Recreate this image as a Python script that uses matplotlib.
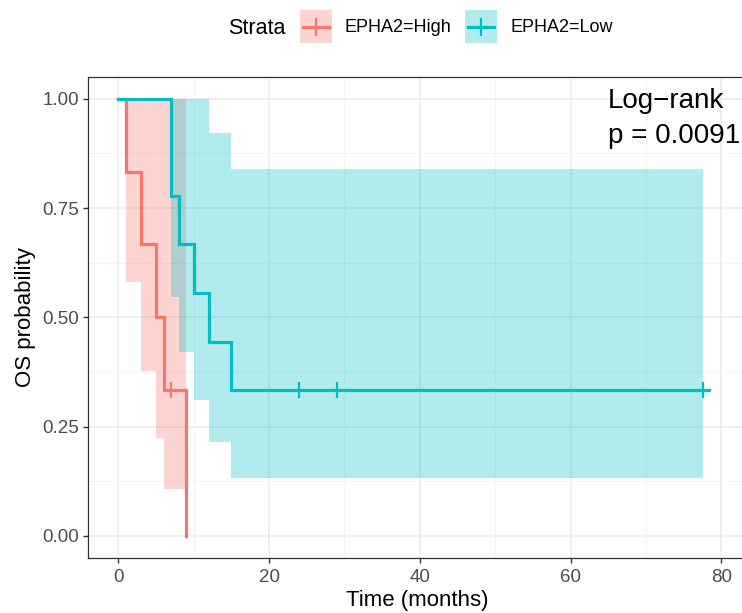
import matplotlib
matplotlib.use("Agg")
import matplotlib.pyplot as plt
from matplotlib.patches import Rectangle
from matplotlib.lines import Line2D
import numpy as np

plt.rcParams['font.family'] = ['Liberation Sans', 'DejaVu Sans']

# ---- data ----
strata = ["EPHA2=High", "EPHA2=Low"]
colors = ["#F8766D", "#00BFC4"]

high_time = [0, 1, 3, 5, 6, 9]
high_surv = [1.0, 0.833, 0.667, 0.5, 0.333, 0.0]
high_ci_time = [1, 3, 5, 6, 9]
high_ci_low = [0.581, 0.378, 0.223, 0.107, 0.107]
high_ci_up = [1.0, 1.0, 1.0, 1.0, 1.0]
high_cens_time = [7]
high_cens_surv = [0.333]

low_time = [0, 7, 8, 10, 12, 15, 77.5]
low_surv = [1.0, 0.778, 0.667, 0.556, 0.444, 0.333, 0.333]
low_ci_time = [7, 8, 10, 12, 15, 77.5]
low_ci_low = [0.547, 0.421, 0.310, 0.214, 0.132, 0.132]
low_ci_up = [1.0, 1.0, 1.0, 0.921, 0.839, 0.839]
low_cens_time = [24, 29, 77.5]
low_cens_surv = [0.333, 0.333, 0.333]

x_ticks = [0, 20, 40, 60, 80]
y_ticks = [0.0, 0.25, 0.5, 0.75, 1.0]
y_ticklabels = ["0.00", "0.25", "0.50", "0.75", "1.00"]
pval_lines = ["Log\u2212rank", "p = 0.0091"]

W, H = 742, 613
fig = plt.figure(figsize=(W / 100, H / 100), dpi=100)
L, R, T, B = 88.3, 745.6, 77.0, 557.7
ax = fig.add_axes([L / W, 1 - B / H, (R - L) / W, (B - T) / H])
ax.set_xlim(-3.98, 83.2)
ax.set_ylim(-0.05, 1.05)

# grid
ax.set_xticks(x_ticks)
ax.set_xticks([10, 30, 50, 70], minor=True)
ax.set_yticks(y_ticks)
ax.set_yticklabels(y_ticklabels)
ax.set_yticks([0.125, 0.375, 0.625, 0.875], minor=True)
ax.grid(True, which='major', color='#EBEBEB', lw=1.1, zorder=0)
ax.grid(True, which='minor', color='#F2F2F2', lw=0.6, zorder=0)
ax.set_axisbelow(True)

# ribbons
ax.fill_between(high_ci_time, high_ci_low, high_ci_up, step='post',
                color=colors[0], alpha=0.3, lw=0, zorder=1)
ax.fill_between(low_ci_time, low_ci_low, low_ci_up, step='post',
                color=colors[1], alpha=0.3, lw=0, zorder=1)

# curves
ax.step(high_time, high_surv, where='post', color=colors[0], lw=2.3, zorder=3,
        solid_joinstyle='miter')
ax.step(low_time, low_surv, where='post', color=colors[1], lw=2.3, zorder=4,
        solid_joinstyle='miter')
ax.plot(high_cens_time, high_cens_surv, ls='none', marker='|', ms=11, mew=1.6,
        color=colors[0], zorder=5)
ax.plot(low_cens_time, low_cens_surv, ls='none', marker='|', ms=11, mew=1.6,
        color=colors[1], zorder=5)
ax.plot([low_cens_time[-1], low_cens_time[-1] + 0.9], [low_cens_surv[-1]] * 2,
        color=colors[1], lw=2.3, zorder=5)

# axes styling
for s in ax.spines.values():
    s.set_color('#333333')
    s.set_linewidth(0.9)
ax.tick_params(axis='both', which='major', direction='out', length=3.5, width=1.0,
               color='#333333', labelsize=13.5, labelcolor='#4D4D4D', pad=3)
ax.tick_params(axis='x', which='major', pad=4.5)
ax.tick_params(axis='both', which='minor', length=0)
ax.set_xlabel("Time (months)", fontsize=16, labelpad=3)
ax.set_ylabel("OS probability", fontsize=16, labelpad=5)


def px2fig(x, y):
    return x / W, 1 - y / H


# p-value text
fig.text(*px2fig(608, 108.3), pval_lines[0], fontsize=20, va='baseline', ha='left')
fig.text(*px2fig(608, 142.7), pval_lines[1], fontsize=20, va='baseline', ha='left')

# legend (manual, ggplot style)
fig.text(*px2fig(228, 28), "Strata", fontsize=15.5, va='center', ha='left')
keys = [(300, 345, strata[0], colors[0]), (465, 510, strata[1], colors[1])]
for kx, tx, lab, col in keys:
    x0, y0 = px2fig(kx, 43)
    fig.add_artist(Rectangle((x0, y0), 32 / W, 33 / H, transform=fig.transFigure,
                             facecolor=col, alpha=0.3, lw=0))
    xa, ya = px2fig(kx + 3, 27)
    xb, _ = px2fig(kx + 29, 27)
    fig.add_artist(Line2D([xa, xb], [ya, ya], transform=fig.transFigure,
                          color=col, lw=2.3))
    xc, _ = px2fig(kx + 16, 27)
    _, yt = px2fig(0, 19)
    _, yb = px2fig(0, 35)
    fig.add_artist(Line2D([xc, xc], [yb, yt], transform=fig.transFigure,
                          color=col, lw=1.6))
    fig.text(*px2fig(tx, 28), lab, fontsize=13, va='center', ha='left')

fig.savefig("out.png", dpi=100)
